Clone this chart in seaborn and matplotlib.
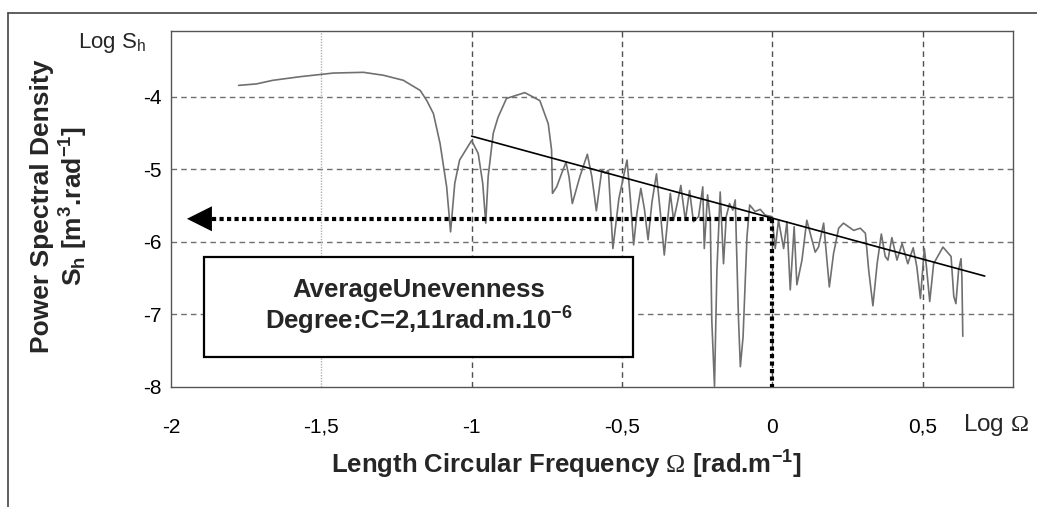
import numpy as np
import pandas as pd
import matplotlib
matplotlib.use("Agg")
import matplotlib.pyplot as plt
import matplotlib.patches as patches
from matplotlib.lines import Line2D
import seaborn as sns

# ---------------------------
# Data
# ---------------------------
log_omega = [-1.775, -1.716, -1.661, -1.570, -1.460, -1.360, -1.294, -1.227, -1.171, -1.149,
             -1.127, -1.105, -1.083, -1.070, -1.056, -1.040, -1.000, -0.978, -0.963, -0.953,
             -0.945, -0.928, -0.912, -0.884, -0.823, -0.773, -0.745, -0.734, -0.731, -0.717,
             -0.701, -0.686, -0.676, -0.665, -0.640, -0.615, -0.600, -0.585, -0.567, -0.556,
             -0.545, -0.530, -0.510, -0.483, -0.472, -0.461, -0.450, -0.437, -0.425, -0.413,
             -0.400, -0.385, -0.372, -0.359, -0.348, -0.339, -0.328, -0.315, -0.304, -0.289,
             -0.275, -0.262, -0.245, -0.231, -0.226, -0.215, -0.206, -0.201, -0.192, -0.184,
             -0.173, -0.162, -0.153, -0.142, -0.131, -0.123, -0.112, -0.106, -0.097, -0.084,
             -0.075, -0.057, -0.040, -0.023, -0.001, 0.010, 0.021, 0.038, 0.049, 0.060,
             0.073, 0.082, 0.099, 0.115, 0.143, 0.154, 0.171, 0.190, 0.204, 0.221,
             0.237, 0.271, 0.293, 0.310, 0.321, 0.335, 0.349, 0.363, 0.376, 0.385,
             0.398, 0.415, 0.432, 0.451, 0.469, 0.481, 0.493, 0.506, 0.513, 0.524,
             0.537, 0.568, 0.595, 0.604, 0.611, 0.620, 0.628, 0.631, 0.634]
log_sh = [-3.84, -3.82, -3.77, -3.72, -3.67, -3.66, -3.70, -3.77, -3.91, -4.05,
          -4.23, -4.64, -5.24, -5.86, -5.19, -4.87, -4.60, -4.78, -5.19, -5.74,
          -5.10, -4.50, -4.28, -4.02, -3.94, -4.05, -4.37, -4.73, -5.33, -5.24,
          -5.06, -4.90, -5.10, -5.47, -5.10, -4.79, -5.10, -5.57, -5.01, -5.05,
          -5.01, -6.09, -5.40, -4.87, -5.40, -6.04, -5.60, -5.26, -5.55, -5.97,
          -5.45, -5.06, -5.60, -6.18, -5.70, -5.33, -5.70, -5.45, -5.22, -5.70,
          -5.29, -5.72, -5.65, -5.24, -6.09, -5.35, -5.70, -7.08, -7.99, -6.39,
          -5.31, -6.30, -5.65, -5.47, -5.56, -5.42, -7.08, -7.72, -7.31, -5.93,
          -5.49, -5.58, -5.55, -5.63, -5.65, -6.09, -5.70, -6.09, -5.72, -6.66,
          -5.79, -6.59, -6.25, -5.70, -6.14, -6.07, -5.74, -6.62, -6.16, -5.81,
          -5.74, -5.84, -5.81, -5.88, -6.39, -6.88, -6.30, -5.89, -6.20, -6.25,
          -5.94, -6.25, -6.02, -6.30, -6.08, -6.34, -6.78, -6.09, -6.34, -6.82,
          -6.30, -6.07, -6.20, -6.75, -6.85, -6.39, -6.23, -6.48, -7.30]

# fitted trend line
fit_x = [-1.0, 0.707]
fit_y = [-4.54, -6.47]

# reading at log omega = 0
read_x = 0.0
read_y = -5.68

x_ticks = [-2, -1.5, -1, -0.5, 0, 0.5]
x_labels = ["-2", "-1,5", "-1", "-0,5", "0", "0,5"]
y_ticks = [-8, -7, -6, -5, -4]
y_labels = ["-8", "-7", "-6", "-5", "-4"]

# ---------------------------
# Style
# ---------------------------
sns.set_style("white")
plt.rcParams["font.family"] = ["Liberation Sans", "DejaVu Sans"]
plt.rcParams["mathtext.fontset"] = "custom"
plt.rcParams["mathtext.rm"] = "Liberation Sans"
plt.rcParams["mathtext.bf"] = "Liberation Sans:bold"
plt.rcParams["mathtext.it"] = "Liberation Sans:italic"
plt.rcParams["mathtext.sf"] = "Liberation Serif"

fig = plt.figure(figsize=(10.37, 5.07), dpi=100)
ax = fig.add_axes([171 / 1037, 1 - 387 / 507, (1012.7 - 171) / 1037, (387 - 31) / 507])

# grid
for yv in [-7, -6, -5, -4]:
    ax.axhline(yv, color="#707070", lw=1.0, ls=(0, (4, 3)), zorder=1)
for xv in [-1, -0.5, 0, 0.5]:
    ax.axvline(xv, color="#505050", lw=1.0, ls=(0, (4, 3)), zorder=1)
ax.axvline(-1.5, color="#b0b0b0", lw=1.0, ls=(0, (1, 1)), zorder=1)

# spectrum and trend
df = pd.DataFrame({"x": log_omega, "y": log_sh})
sns.lineplot(data=df, x="x", y="y", estimator=None, sort=False, color="#707070", lw=1.2, ax=ax, zorder=3)
sns.lineplot(x=fit_x, y=fit_y, estimator=None, color="black", lw=1.2, ax=ax, zorder=4)

# dotted reading lines + arrow
arrow_tip = -1.947
arrow_base = arrow_tip + 0.085
ax.plot([arrow_base, read_x], [read_y, read_y], color="black", lw=3.0,
        ls=(0, (1, 0.8)), dash_capstyle="butt", zorder=5)
ax.plot([read_x, read_x], [read_y, -8], color="black", lw=3.0,
        ls=(0, (1, 0.8)), dash_capstyle="butt", zorder=5)
ax.annotate("", xy=(arrow_tip, read_y), xytext=(arrow_base + 0.005, read_y),
            arrowprops=dict(arrowstyle="-|>,head_length=1.0,head_width=0.5",
                            mutation_scale=18, color="black", lw=0,
                            shrinkA=0, shrinkB=0), zorder=6)

# text box
box = patches.Rectangle((-1.890, -7.585), 1.428, 1.377, facecolor="white",
                        edgecolor="black", lw=1.6, zorder=7)
ax.add_patch(box)
ax.text(-1.176, -6.90, "AverageUnevenness\nDegree:C=2,11rad.m.10$^{\\mathbf{-6}}$",
        ha="center", va="center", fontsize=18.5, fontweight="bold",
        linespacing=1.1, zorder=8)

ax.set_xlim(-2, 0.8)
ax.set_ylim(-8, -3.09)
ax.set_xticks(x_ticks)
ax.set_xticklabels(x_labels)
ax.set_yticks(y_ticks)
ax.set_yticklabels(y_labels)
ax.tick_params(axis="both", length=0, labelsize=15, colors="black")
ax.tick_params(axis="x", pad=22)
ax.tick_params(axis="y", pad=7)
ax.set_xlabel("")
ax.set_ylabel("")
for s in ax.spines.values():
    s.set_color("#555555")
    s.set_linewidth(1.0)
    s.set_visible(True)

# axis titles
fig.text(78 / 1037, 1 - 43 / 507, "Log S$_{\\mathregular{h}}$", fontsize=16,
         ha="left", va="center")
fig.text(963 / 1037, 1 - 425 / 507, "Log $\\mathsf{\\Omega}$", fontsize=17.5,
         ha="left", va="center")
fig.text(566 / 1037, 1 - 465 / 507,
         "Length Circular Frequency $\\mathsf{\\Omega}$ [rad.m$^{\\mathbf{-1}}$]",
         fontsize=18.5, fontweight="bold", ha="center", va="center")
fig.text(60 / 1037, 1 - 206 / 507,
         "Power Spectral Density\nS$_{\\mathbf{h}}$ [m$^{\\mathbf{3}}$.rad$^{\\mathbf{-1}}$]",
         fontsize=19, fontweight="bold", ha="center", va="center",
         rotation=90, multialignment="center", linespacing=1.15)

# outer frame (top and left edges)
fig.add_artist(Line2D([8 / 1037, 1], [1 - 13 / 507, 1 - 13 / 507],
                      transform=fig.transFigure, color="#444444", lw=1.2))
fig.add_artist(Line2D([8 / 1037, 8 / 1037], [0, 1 - 13 / 507],
                      transform=fig.transFigure, color="#444444", lw=1.2))

fig.savefig("out.png", dpi=100)
